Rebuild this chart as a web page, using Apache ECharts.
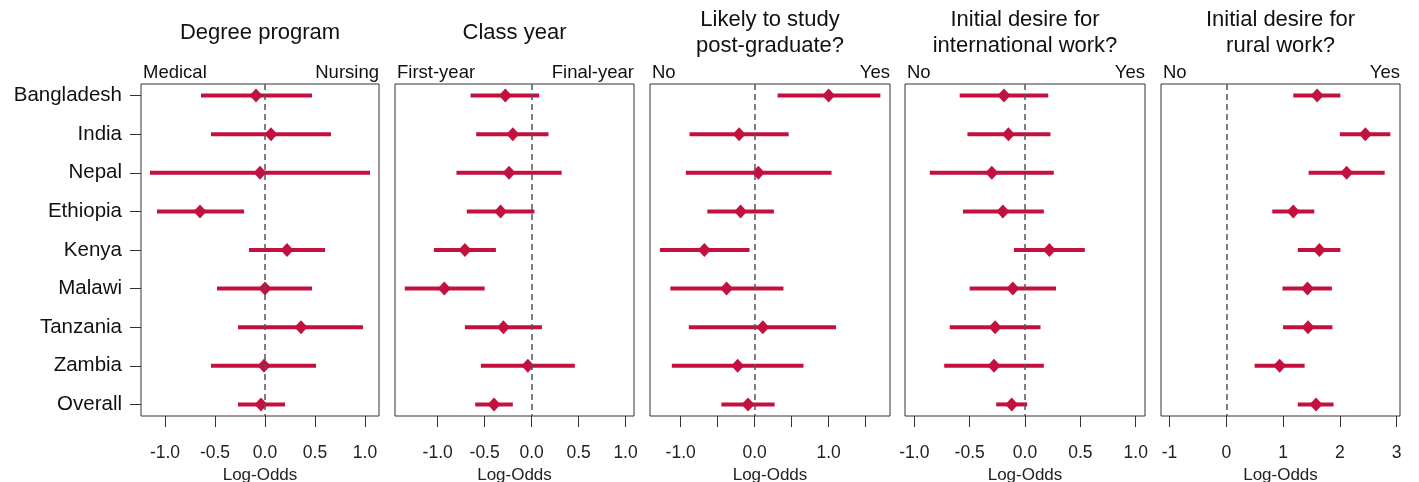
<!DOCTYPE html>
<html>
<head>
<meta charset="utf-8">
<script src="https://cdn.jsdelivr.net/npm/echarts@6/dist/echarts.min.js"></script>
<style>
    html, body { margin: 0; padding: 0; background: #fff; }
    #chart-box { width: 1419px; height: 482px; }
</style>
</head>
<body>
<div id="chart-box"></div>
<script>
    // rows, top to bottom
    const countries = ['Bangladesh', 'India', 'Nepal', 'Ethiopia', 'Kenya', 'Malawi', 'Tanzania', 'Zambia', 'Overall'];

    // Degree program
    const degreeEst = [-0.09, 0.06, -0.05, -0.65, 0.22, 0.00, 0.36, -0.01, -0.04];
    const degreeLo = [-0.64, -0.54, -1.15, -1.08, -0.16, -0.48, -0.27, -0.54, -0.27];
    const degreeHi = [0.47, 0.66, 1.05, -0.21, 0.60, 0.47, 0.98, 0.51, 0.20];

    // Class year
    const yearEst = [-0.28, -0.20, -0.24, -0.33, -0.71, -0.93, -0.30, -0.04, -0.40];
    const yearLo = [-0.65, -0.59, -0.80, -0.69, -1.04, -1.35, -0.71, -0.54, -0.60];
    const yearHi = [0.08, 0.18, 0.32, 0.03, -0.38, -0.50, 0.11, 0.46, -0.20];

    // Likely to study post-graduate
    const postgradEst = [1.00, -0.21, 0.05, -0.19, -0.68, -0.38, 0.11, -0.23, -0.09];
    const postgradLo = [0.31, -0.88, -0.93, -0.64, -1.28, -1.14, -0.89, -1.12, -0.45];
    const postgradHi = [1.70, 0.46, 1.04, 0.26, -0.07, 0.39, 1.10, 0.66, 0.27];

    // Initial desire for international work
    const intlEst = [-0.19, -0.15, -0.30, -0.20, 0.22, -0.11, -0.27, -0.28, -0.12];
    const intlLo = [-0.59, -0.52, -0.86, -0.56, -0.10, -0.50, -0.68, -0.73, -0.26];
    const intlHi = [0.21, 0.23, 0.26, 0.17, 0.54, 0.28, 0.14, 0.17, 0.02];

    // Initial desire for rural work
    const ruralEst = [1.60, 2.45, 2.12, 1.18, 1.64, 1.43, 1.44, 0.94, 1.58];
    const ruralLo = [1.18, 2.00, 1.45, 0.81, 1.26, 0.99, 1.00, 0.50, 1.26];
    const ruralHi = [2.01, 2.89, 2.79, 1.55, 2.01, 1.86, 1.87, 1.38, 1.89];

    const titles = ['Degree program', 'Class year', 'Likely to study\npost-graduate?',
        'Initial desire for\ninternational work?', 'Initial desire for\nrural work?'];
    const leftLabels = ['Medical', 'First-year', 'No', 'No', 'No'];
    const rightLabels = ['Nursing', 'Final-year', 'Yes', 'Yes', 'Yes'];

    // tick positions and the ones that get a label
    const tickValues = [
        [-1, -0.5, 0, 0.5, 1],
        [-1, -0.5, 0, 0.5, 1],
        [-1, -0.5, 0, 0.5, 1, 1.5],
        [-1, -0.5, 0, 0.5, 1],
        [-1, 0, 1, 2, 3]
    ];
    const labelValues = [
        [-1, -0.5, 0, 0.5, 1],
        [-1, -0.5, 0, 0.5, 1],
        [-1, 0, 1],
        [-1, -0.5, 0, 0.5, 1],
        [-1, 0, 1, 2, 3]
    ];

    const panels = [
        {est: degreeEst, lo: degreeLo, hi: degreeHi},
        {est: yearEst, lo: yearLo, hi: yearHi},
        {est: postgradEst, lo: postgradLo, hi: postgradHi},
        {est: intlEst, lo: intlLo, hi: intlHi},
        {est: ruralEst, lo: ruralLo, hi: ruralHi}
    ];

    // layout
    const boxLeft = [141, 395, 650, 905, 1161];
    const boxWidth = [238, 239, 240, 240, 239];
    const boxTop = 84;
    const boxHeight = 332;
    const xMin = [-1.24, -1.454, -1.415, -1.084, -1.15];
    const xMax = [1.14, 1.09, 1.83, 1.084, 3.06];

    const red = '#c3113f';
    const font = '"Liberation Sans", Arial, sans-serif';

    let grid = [], xAxis = [], yAxis = [], series = [], graphic = [];

    panels.forEach(function (p, k) {
        grid.push({
            left: boxLeft[k], top: boxTop, width: boxWidth[k], height: boxHeight,
            outerBoundsMode: 'none', containLabel: false,
            show: true, borderColor: '#333', borderWidth: 1, backgroundColor: '#fff'
        });
        xAxis.push({
            gridIndex: k, type: 'value', min: xMin[k], max: xMax[k], position: 'bottom',
            axisLine: {show: false, onZero: false},
            splitLine: {show: false},
            axisTick: {show: true, length: 11, lineStyle: {color: '#333'}, customValues: tickValues[k]},
            axisLabel: {
                customValues: labelValues[k], margin: 28, color: '#222',
                fontFamily: font, fontSize: 17.5,
                formatter: function (v) { return k === 4 ? String(v) : v.toFixed(1); }
            },
            name: 'Log-Odds', nameLocation: 'middle', nameGap: 46,
            nameTextStyle: {fontFamily: font, fontSize: 17, color: '#222'}
        });
        yAxis.push({
            gridIndex: k, type: 'value', inverse: true, min: -0.3, max: 8.3, position: 'left',
            show: k === 0,
            axisLine: {show: false, onZero: false},
            splitLine: {show: false},
            axisTick: {show: true, length: 11, lineStyle: {color: '#333'}, customValues: [0, 1, 2, 3, 4, 5, 6, 7, 8]},
            axisLabel: {
                customValues: [0, 1, 2, 3, 4, 5, 6, 7, 8], margin: 19, color: '#111',
                fontFamily: font, fontSize: 20.5,
                formatter: function (v) { return countries[v]; }
            }
        });

        series.push({
            type: 'custom', xAxisIndex: k, yAxisIndex: k,
            encode: {x: [0, 1], y: 2},
            data: p.lo.map(function (lo, i) { return [lo, p.hi[i], i]; }),
            renderItem: function (params, api) {
                let a = api.coord([api.value(0), api.value(2)]);
                let b = api.coord([api.value(1), api.value(2)]);
                return {
                    type: 'line',
                    shape: {x1: a[0], y1: a[1], x2: b[0], y2: b[1]},
                    style: {stroke: red, lineWidth: 4}
                };
            }
        });
        series.push({
            type: 'scatter', xAxisIndex: k, yAxisIndex: k,
            symbol: 'diamond', symbolSize: [13, 14],
            itemStyle: {color: red, opacity: 1},
            data: p.est.map(function (v, i) { return [v, i]; }),
            markLine: {
                silent: true, symbol: 'none', label: {show: false},
                lineStyle: {color: '#555', type: [6, 4], width: 1.5},
                data: [{xAxis: 0}]
            }
        });

        let cx = boxLeft[k] + boxWidth[k] / 2;
        graphic.push({
            type: 'text', x: cx, y: 33,
            style: {text: titles[k], font: '22px ' + font, fill: '#111',
                textAlign: 'center', textVerticalAlign: 'middle', lineHeight: 26}
        });
        graphic.push({
            type: 'text', x: boxLeft[k] + 2, y: 73,
            style: {text: leftLabels[k], font: '18.5px ' + font, fill: '#111',
                textAlign: 'left', textVerticalAlign: 'middle'}
        });
        graphic.push({
            type: 'text', x: boxLeft[k] + boxWidth[k], y: 73,
            style: {text: rightLabels[k], font: '18.5px ' + font, fill: '#111',
                textAlign: 'right', textVerticalAlign: 'middle'}
        });
    });

    let chart = echarts.init(document.getElementById('chart-box'));
    chart.setOption({
        animation: false,
        backgroundColor: '#fff',
        grid: grid,
        xAxis: xAxis,
        yAxis: yAxis,
        series: series,
        graphic: graphic
    });

    window.addEventListener('resize', function () {
        chart.resize();
    });
</script>
</body>
</html>
